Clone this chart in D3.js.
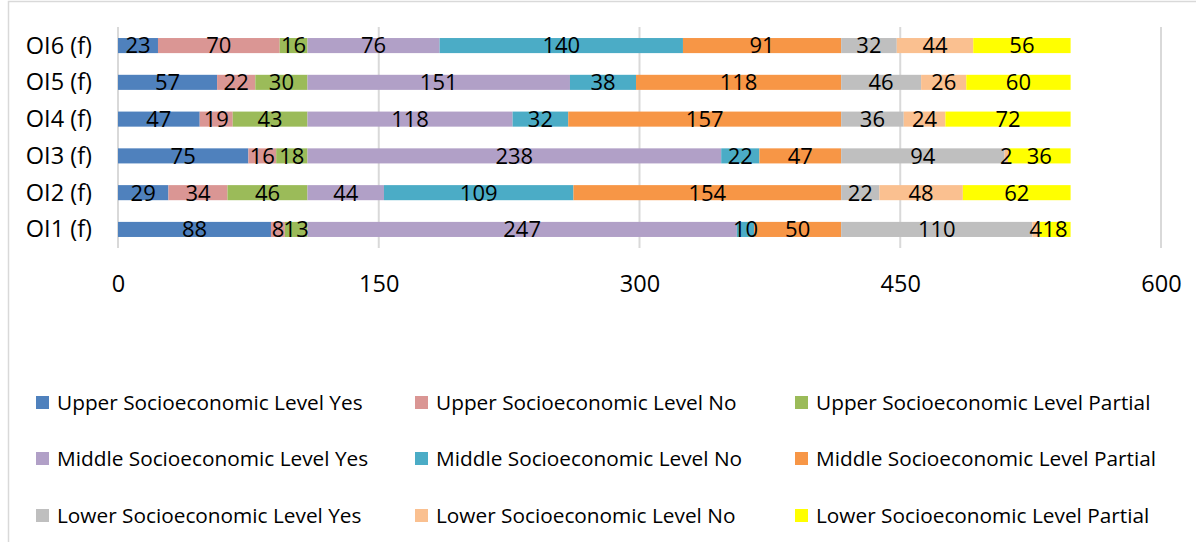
<!DOCTYPE html>
<html>
<head>
<meta charset="utf-8">
<script src="https://cdn.jsdelivr.net/npm/d3@7"></script>
<style>
  html, body { margin: 0; padding: 0; background: #fff; }
  svg { display: block; }
  text { font-family: "Open Sans", Lato, sans-serif; fill: #000; }
</style>
</head>
<body>
<svg id="chart" width="1196" height="542"></svg>
<script>
// Categories, bottom to top as drawn
const categories = ["OI1 (f)", "OI2 (f)", "OI3 (f)", "OI4 (f)", "OI5 (f)", "OI6 (f)"];

const seriesNames = [
  "Upper Socioeconomic Level Yes",
  "Upper Socioeconomic Level No",
  "Upper Socioeconomic Level Partial",
  "Middle Socioeconomic Level Yes",
  "Middle Socioeconomic Level No",
  "Middle Socioeconomic Level Partial",
  "Lower Socioeconomic Level Yes",
  "Lower Socioeconomic Level No",
  "Lower Socioeconomic Level Partial"
];

// One array per series, values in category order OI1..OI6
const upperYes      = [88, 29, 75, 47, 57, 23];
const upperNo       = [8, 34, 16, 19, 22, 70];
const upperPartial  = [13, 46, 18, 43, 30, 16];
const middleYes     = [247, 44, 238, 118, 151, 76];
const middleNo      = [10, 109, 22, 32, 38, 140];
const middlePartial = [50, 154, 47, 157, 118, 91];
const lowerYes      = [110, 22, 94, 36, 46, 32];
const lowerNo       = [4, 48, 2, 24, 26, 44];
const lowerPartial  = [18, 62, 36, 72, 60, 56];

const tickValues = [0, 150, 300, 450, 600];

const seriesColors = ["#4F81BD", "#DA9694", "#9BBB59", "#B1A0C7", "#4BACC6",
                      "#F79646", "#BFBFBF", "#FAC090", "#FFFF00"];

const seriesValues = [upperYes, upperNo, upperPartial, middleYes, middleNo,
                      middlePartial, lowerYes, lowerNo, lowerPartial];

const rows = categories.map((c, i) => {
  const r = { category: c };
  seriesNames.forEach((s, j) => { r[s] = seriesValues[j][i]; });
  return r;
});

const svg = d3.select("#chart");

// Chart frame
svg.append("rect")
  .attr("x", 8.5).attr("y", 1.5)
  .attr("width", 1196).attr("height", 560)
  .attr("fill", "none").attr("stroke", "#D9D9D9").attr("stroke-width", 1.5);

const plot = { left: 118, right: 1161, top: 27, bottom: 248 };

const x = d3.scaleLinear().domain([0, 600]).range([plot.left, plot.right]);
const y = d3.scaleBand()
  .domain(categories.slice().reverse())
  .range([plot.top, plot.bottom])
  .paddingInner(0.59)
  .paddingOuter(0.3);

// Vertical gridlines
svg.append("g")
  .selectAll("line")
  .data(tickValues)
  .join("line")
  .attr("x1", d => x(d)).attr("x2", d => x(d))
  .attr("y1", plot.top).attr("y2", plot.bottom)
  .attr("stroke", "#D9D9D9").attr("stroke-width", 2);

// X axis tick labels
const xAxis = d3.axisBottom(x).tickValues(tickValues).tickSize(0).tickPadding(0);
const gx = svg.append("g").attr("transform", `translate(0, 292)`).call(xAxis);
gx.select(".domain").remove();
gx.selectAll("text").attr("font-size", 23.5).attr("dy", "0")
  .style("font-family", "'Open Sans', Lato, sans-serif");

// Y axis category labels
const yAxis = d3.axisLeft(y).tickSize(0).tickPadding(26);
const gy = svg.append("g").attr("transform", `translate(${plot.left}, 0)`).call(yAxis);
gy.select(".domain").remove();
gy.selectAll("text").attr("font-size", 23.5).attr("dy", "0.34em")
  .style("font-family", "'Open Sans', Lato, sans-serif");

// Stacked bars
const stack = d3.stack().keys(seriesNames);
const layers = stack(rows);

svg.append("g")
  .selectAll("g")
  .data(layers)
  .join("g")
  .attr("fill", (d, i) => seriesColors[i])
  .selectAll("rect")
  .data(d => d)
  .join("rect")
  .attr("x", d => x(d[0]))
  .attr("y", d => y(d.data.category))
  .attr("width", d => x(d[1]) - x(d[0]))
  .attr("height", y.bandwidth());

// Value labels centred on each segment, drawn above every bar
svg.append("g")
  .selectAll("g")
  .data(layers)
  .join("g")
  .selectAll("text")
  .data(d => d.map(p => ({ p, key: d.key })))
  .join("text")
  .attr("x", d => (x(d.p[0]) + x(d.p[1])) / 2)
  .attr("y", d => y(d.p.data.category) + y.bandwidth() / 2)
  .attr("dy", "0.36em")
  .attr("text-anchor", "middle")
  .attr("font-size", 22)
  .text(d => d.p.data[d.key]);

// Legend: three columns, three rows
const legendCols = [36, 415, 795];
const legendRows = [403, 459, 516];
const legend = svg.append("g")
  .selectAll("g")
  .data(seriesNames)
  .join("g")
  .attr("transform", (d, i) => `translate(${legendCols[i % 3]}, ${legendRows[Math.floor(i / 3)]})`);

legend.append("rect")
  .attr("x", 0).attr("y", -7)
  .attr("width", 13).attr("height", 13)
  .attr("fill", (d, i) => seriesColors[i]);

legend.append("text")
  .attr("x", 21).attr("y", 0)
  .attr("dy", "0.35em")
  .attr("font-size", 20.8)
  .text(d => d);
</script>
</body>
</html>
